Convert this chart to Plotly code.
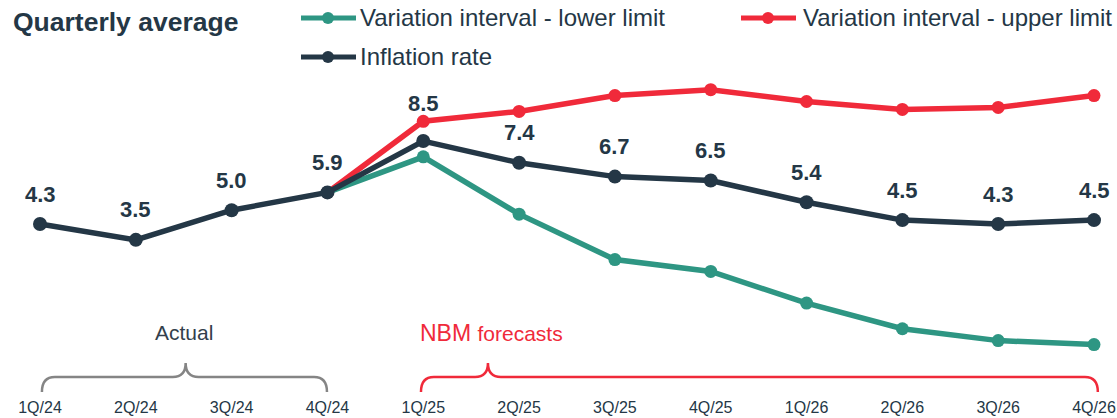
import plotly.graph_objects as go

quarters = ["1Q/24", "2Q/24", "3Q/24", "4Q/24", "1Q/25", "2Q/25", "3Q/25", "4Q/25",
            "1Q/26", "2Q/26", "3Q/26", "4Q/26"]
inflation = [4.3, 3.5, 5.0, 5.9, 8.5, 7.4, 6.7, 6.5, 5.4, 4.5, 4.3, 4.5]
upper = [None, None, None, 5.9, 9.5, 10.0, 10.8, 11.1, 10.5, 10.1, 10.2, 10.8]
lower = [None, None, None, 5.9, 7.7, 4.8, 2.5, 1.9, 0.3, -1.0, -1.6, -1.8]
label_shift = [30, 30, 30, 30, 38, 30, 30, 30, 30, 30, 30, 30]

NAVY = "#243746"
TEAL = "#2e9683"
RED = "#f02a3a"
GRAY = "#858585"
FONT = "Liberation Sans, Arial, sans-serif"

W, H = 1117, 418
MB = 22
PH = H - MB

xs = list(range(len(quarters)))

fig = go.Figure()
fig.add_trace(go.Scatter(x=xs, y=lower, mode="lines+markers", name="Variation interval - lower limit",
                         line=dict(color=TEAL, width=5.5), marker=dict(size=13, color=TEAL),
                         showlegend=False, cliponaxis=False))
fig.add_trace(go.Scatter(x=xs, y=upper, mode="lines+markers", name="Variation interval - upper limit",
                         line=dict(color=RED, width=5.5), marker=dict(size=13, color=RED),
                         showlegend=False, cliponaxis=False))
fig.add_trace(go.Scatter(x=xs, y=inflation, mode="lines+markers", name="Inflation rate",
                         line=dict(color=NAVY, width=5.5), marker=dict(size=14, color=NAVY),
                         showlegend=False, cliponaxis=False))

annotations = []
for i, v in enumerate(inflation):
    annotations.append(dict(x=i, y=v, xref="x", yref="y", text=f"<b>{v:.1f}</b>", showarrow=False,
                            yshift=label_shift[i], font=dict(family=FONT, size=22, color=NAVY)))

def px_x(p):
    return p / W

def px_y(p):
    return (PH - p) / PH

# title
annotations.append(dict(x=px_x(11), y=px_y(22), xref="paper", yref="paper", xanchor="left", yanchor="middle",
                        text="<b>Quarterly average</b>", showarrow=False,
                        font=dict(family=FONT, size=26.5, color=NAVY)))

shapes = []
legend_items = [("Variation interval - lower limit", TEAL, 301, 358, 18),
                ("Variation interval - upper limit", RED, 741, 801, 18),
                ("Inflation rate", NAVY, 301, 358, 57)]
for name, col, x0, xt, yrow in legend_items:
    shapes.append(dict(type="line", xref="paper", yref="paper", x0=px_x(x0), x1=px_x(x0 + 55),
                       y0=px_y(yrow), y1=px_y(yrow), line=dict(color=col, width=5)))
    shapes.append(dict(type="circle", xref="paper", yref="paper", xsizemode="pixel", ysizemode="pixel",
                       xanchor=px_x(x0 + 27), yanchor=px_y(yrow), x0=-6, x1=6, y0=-6, y1=6,
                       fillcolor=col, line=dict(width=0)))
    annotations.append(dict(x=px_x(xt), y=px_y(yrow), xref="paper", yref="paper", xanchor="left",
                            yanchor="middle", text=name, showarrow=False,
                            font=dict(family=FONT, size=24, color=NAVY)))

# brackets
def bracket(xl, xr, xt, col):
    ye, yh, yt = px_y(392), px_y(377), px_y(363)
    d = 0.135
    path = (f"M{xl},{ye} Q{xl},{yh} {xl + d},{yh} L{xt - d},{yh} Q{xt},{yh} {xt},{yt} "
            f"Q{xt},{yh} {xt + d},{yh} L{xr - d},{yh} Q{xr},{yh} {xr},{ye}")
    return dict(type="path", xref="x", yref="paper", path=path, line=dict(color=col, width=2.5))

shapes.append(bracket(0.02, 2.995, 1.52, GRAY))
shapes.append(bracket(3.976, 11.04, 4.675, RED))

annotations.append(dict(x=1.5, y=px_y(332), xref="x", yref="paper", text="Actual", showarrow=False,
                        yanchor="middle", font=dict(family=FONT, size=21, color="#333f4c")))
annotations.append(dict(x=4.71, y=px_y(333), xref="x", yref="paper",
                        text="NBM <span style='font-size:21px'>forecasts</span>", showarrow=False,
                        yanchor="middle", font=dict(family=FONT, size=23, color=RED)))

y_top = 309 / 19.76
y_bot = y_top - PH / 19.76

fig.update_layout(
    width=W, height=H, margin=dict(l=0, r=0, t=0, b=MB),
    paper_bgcolor="white", plot_bgcolor="white",
    showlegend=False,
    xaxis=dict(tickmode="array", tickvals=xs, ticktext=quarters, range=[-0.4175, 11.24],
               showgrid=False, zeroline=False, showline=False, ticks="",
               tickfont=dict(family=FONT, size=16, color=NAVY)),
    yaxis=dict(range=[y_bot, y_top], visible=False, showgrid=False, zeroline=False),
    annotations=annotations, shapes=shapes,
)

fig.write_html("out.html", config={"displayModeBar": False},
               post_script="document.body.style.margin='0';document.body.style.overflow='hidden';")
